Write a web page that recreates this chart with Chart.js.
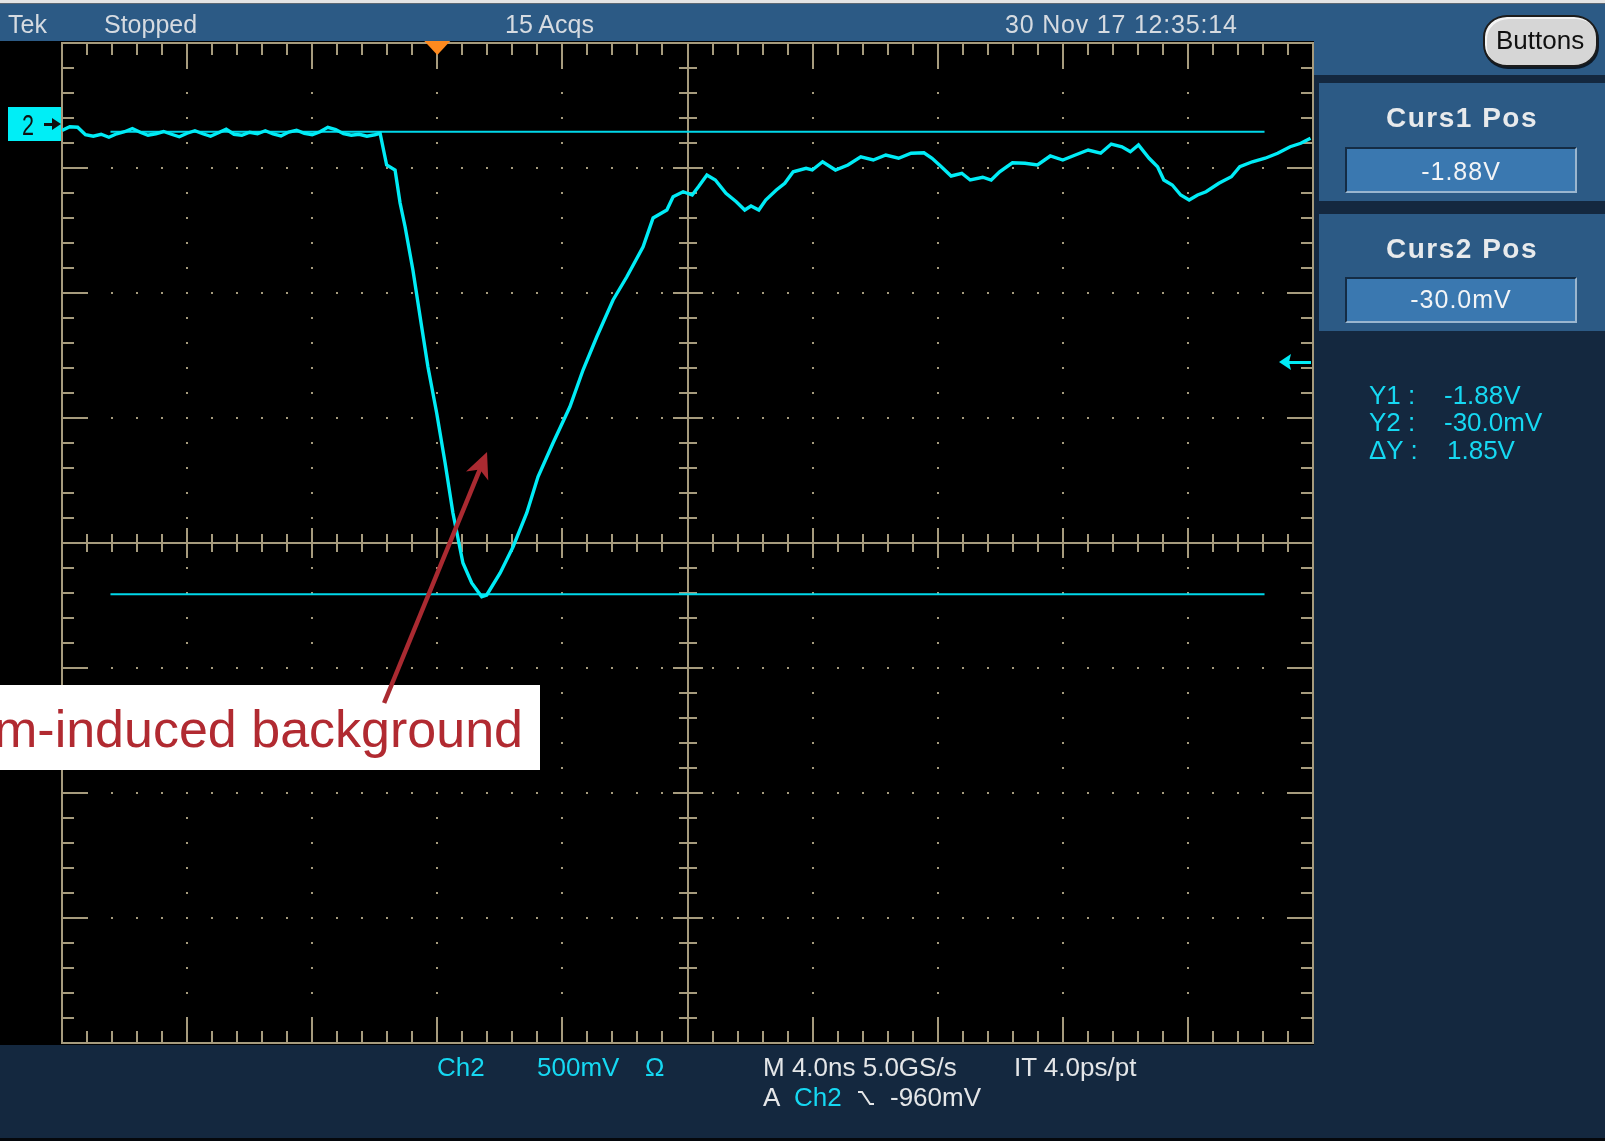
<!DOCTYPE html>
<html>
<head>
<meta charset="utf-8">
<title>Tek Ch2</title>
<script src="https://cdn.jsdelivr.net/npm/chart.js@4.4.1/dist/chart.umd.min.js"></script>
<style>
  html, body { margin: 0; padding: 0; }
  body {
    width: 1605px; height: 1141px; position: relative; overflow: hidden;
    background: #14283f; font-family: "Liberation Sans", Arial, sans-serif;
  }
  .blk { position: absolute; }
  #topStrip { left: 0; top: 0; width: 1605px; height: 3px; background: #e4e4e4; border-bottom: 1px solid #5d6873; }
  #header { left: 0; top: 4px; width: 1605px; height: 37px; background: #2c5a85; }
  #headerRight { left: 1313px; top: 4px; width: 292px; height: 71px; background: #2c5a85; }
  .panel { left: 1319px; width: 286px; background: #2c5a85; }
  .valueBox {
    left: 1345px; width: 228px; height: 42px; background: #3a78b0;
    border-top: 2px solid #142c45; border-left: 2px solid #142c45;
    border-bottom: 2px solid #9ab6cf; border-right: 2px solid #9ab6cf;
  }
  #bottomEdge { left: 0; top: 1138px; width: 1605px; height: 3px; background: #05080c; }
  #buttons {
    left: 1483px; top: 15px; width: 111px; height: 48px; border-radius: 24px / 22px;
    background: #d6d6d6; border: 2px solid #1c1c1c; box-shadow: inset 2px 2px 0 #f4f4f4, 1px 2px 0 #0d1a28;
  }
  #plot { position: absolute; left: 0; top: 0; z-index: 1; }
  .txt { position: absolute; z-index: 2; white-space: nowrap; line-height: 1; }
  .hdr { font-size: 25px; color: #d6dbe1; top: 12px; }
  .pnl { font-size: 28px; font-weight: bold; color: #e8eaec; letter-spacing: 1.5px; left: 1319px; width: 286px; text-align: center; }
  .val { font-size: 25px; color: #f2f4f6; letter-spacing: 1px; left: 1345px; width: 232px; text-align: center; }
  .cy { color: #16d8f2; }
  .wh { color: #e4e6e8; }
  .meas { font-size: 26px; }
  .foot { font-size: 26px; }
  #note { font-size: 52px; color: #b12a31; right: 1082px; top: 703px; }
</style>
</head>
<body>
<div class="blk" id="topStrip"></div>
<div class="blk" id="header"></div>
<div class="blk" id="headerRight"></div>
<div class="blk panel" style="top:83px;height:118px"></div>
<div class="blk valueBox" style="top:147px"></div>
<div class="blk panel" style="top:214px;height:117px"></div>
<div class="blk valueBox" style="top:277px"></div>
<div class="blk" id="buttons"></div>
<div class="blk" id="bottomEdge"></div>

<canvas id="plot" width="1605" height="1141"></canvas>

<!-- status line -->
<div class="txt hdr" style="left:8px">Tek</div>
<div class="txt hdr" style="left:104px">Stopped</div>
<div class="txt hdr" style="left:505px">15 Acqs</div>
<div class="txt hdr" style="left:1005px;letter-spacing:0.8px">30 Nov 17 12:35:14</div>
<div class="txt" style="left:1496px;top:27px;font-size:26px;color:#101010">Buttons</div>

<!-- cursor readouts -->
<div class="txt pnl" style="top:104px">Curs1 Pos</div>
<div class="txt val" id="curs1Val" style="top:159px"></div>
<div class="txt pnl" style="top:235px">Curs2 Pos</div>
<div class="txt val" id="curs2Val" style="top:287px"></div>
<div class="txt meas cy" style="left:1369px;top:382px">Y1 :</div>
<div class="txt meas cy" id="y1Val" style="left:1444px;top:382px"></div>
<div class="txt meas cy" style="left:1369px;top:409px">Y2 :</div>
<div class="txt meas cy" id="y2Val" style="left:1444px;top:409px"></div>
<div class="txt meas cy" style="left:1369px;top:437px">ΔY :</div>
<div class="txt meas cy" id="dyVal" style="left:1447px;top:437px"></div>

<!-- channel / timebase / trigger line -->
<div class="txt foot cy" style="left:437px;top:1054px">Ch2</div>
<div class="txt foot cy" id="ch2Scale" style="left:537px;top:1054px"></div>
<div class="txt foot cy" style="left:645px;top:1054px">Ω</div>
<div class="txt foot wh" style="left:763px;top:1054px">M 4.0ns 5.0GS/s</div>
<div class="txt foot wh" style="left:1014px;top:1054px">IT 4.0ps/pt</div>
<div class="txt foot wh" style="left:763px;top:1084px">A</div>
<div class="txt foot cy" style="left:794px;top:1084px">Ch2</div>
<svg class="txt" style="left:857px;top:1088px" width="18" height="20">
  <polyline points="1,4 5,4 13,16 17,16" fill="none" stroke="#e4e6e8" stroke-width="2"/>
</svg>
<div class="txt foot wh" id="trigVal" style="left:890px;top:1084px"></div>

<div class="txt" style="left:22px;top:110px;font-size:30px;color:#101010;transform:scaleX(0.72);transform-origin:left">2</div>
<div class="txt" id="note">m-induced background</div>

<script>
// Ch2 trace, time in ns (trigger at 0), amplitude in volts
const traceNs = [
  -12.00, -11.75, -11.50, -11.25, -11.00, -10.75, -10.50, -10.25, -10.00, -9.75,
  -9.50, -9.25, -9.00, -8.75, -8.50, -8.25, -8.00, -7.75, -7.50, -7.25,
  -7.00, -6.75, -6.50, -6.25, -6.00, -5.75, -5.50, -5.25, -5.00, -4.75,
  -4.50, -4.25, -4.00, -3.75, -3.50, -3.25, -3.00, -2.75, -2.50, -2.25,
  -2.00, -1.83, -1.62, -1.35, -1.19, -1.03, -0.78, -0.50, -0.30, -0.02,
  0.25, 0.50, 0.82, 1.10, 1.42, 1.58, 2.01, 2.42, 2.86, 3.22,
  3.70, 4.24, 4.66, 5.10, 5.62, 6.06, 6.58, 6.90, 7.34, 7.54,
  7.86, 8.15, 8.35, 8.62, 8.89, 9.23, 9.56, 9.83, 10.03, 10.28,
  10.50, 10.84, 11.11, 11.38, 11.79, 11.99, 12.32, 12.73, 13.13, 13.54,
  13.94, 14.34, 14.75, 15.15, 15.56, 15.82, 16.09, 16.43, 16.77, 17.04,
  17.44, 17.71, 17.98, 18.39, 18.79, 19.19, 19.60, 20.00, 20.40, 20.81,
  21.21, 21.55, 21.89, 22.16, 22.42, 22.76, 23.03, 23.23, 23.50, 23.77,
  24.04, 24.31, 24.58, 24.99, 25.39, 25.66, 26.06, 26.47, 26.87, 27.27,
  27.61, 27.92
];
const traceVolts = [
  -1.885, -1.900, -1.898, -1.868, -1.862, -1.870, -1.858, -1.872, -1.880, -1.893,
  -1.878, -1.866, -1.872, -1.881, -1.870, -1.860, -1.874, -1.884, -1.872, -1.862,
  -1.876, -1.890, -1.870, -1.866, -1.878, -1.872, -1.884, -1.871, -1.863, -1.879,
  -1.886, -1.874, -1.868, -1.880, -1.898, -1.889, -1.872, -1.866, -1.870, -1.862,
  -1.868, -1.874, -1.747, -1.727, -1.595, -1.500, -1.327, -1.100, -0.940, -0.755,
  -0.555, -0.355, -0.155, -0.075, -0.020, -0.027, -0.115, -0.219, -0.355, -0.500,
  -0.635, -0.780, -0.927, -1.060, -1.207, -1.300, -1.420, -1.535, -1.567, -1.620,
  -1.640, -1.627, -1.660, -1.707, -1.687, -1.634, -1.600, -1.567, -1.583, -1.567,
  -1.607, -1.647, -1.674, -1.720, -1.734, -1.727, -1.760, -1.727, -1.747, -1.780,
  -1.767, -1.787, -1.774, -1.794, -1.796, -1.774, -1.743, -1.703, -1.714, -1.687,
  -1.698, -1.687, -1.720, -1.756, -1.754, -1.747, -1.783, -1.767, -1.787, -1.807,
  -1.794, -1.831, -1.820, -1.800, -1.827, -1.774, -1.740, -1.687, -1.667, -1.627,
  -1.607, -1.627, -1.640, -1.674, -1.700, -1.740, -1.760, -1.774, -1.794, -1.820,
  -1.834, -1.854
];

// horizontal cursors (V) and the time span they are drawn over (ns)
const curs1Volts = -1.88;
const curs2Volts = -0.030;
const cursorSpanNs = [-10.45, 26.45];

// trigger and channel settings
const trigLevelVolts = -0.96;
const trigTimeNs = 0;
const ch2MarkerVolts = -1.91;
const voltsPerDiv = 0.5;

// screen window: 10 x 4 ns, 8 x 0.5 V (channel inverted)
const timeWindowNs = [-12, 28];
const voltWindow = [-2.235, 1.765];

// arrow of the note, tail -> tip, in (ns, V)
const noteArrowNs = [-1.70, 1.59];
const noteArrowVolts = [0.405, -0.599];

const CYAN = '#00ecf6';
const TAN = '#a69b7d';

function fmtVolts(v) {
  if (Math.abs(v) < 1) return (v * 1000).toFixed(1) + 'mV';
  return v.toFixed(2) + 'V';
}

document.getElementById('curs1Val').textContent = fmtVolts(curs1Volts);
document.getElementById('curs2Val').textContent = fmtVolts(curs2Volts);
document.getElementById('y1Val').textContent = fmtVolts(curs1Volts);
document.getElementById('y2Val').textContent = fmtVolts(curs2Volts);
document.getElementById('dyVal').textContent = fmtVolts(Math.abs(curs2Volts - curs1Volts));
document.getElementById('ch2Scale').textContent = Math.round(voltsPerDiv * 1000) + 'mV';
document.getElementById('trigVal').textContent = Math.round(trigLevelVolts * 1000) + 'mV';

// graticule, markers and the note box
const scopeScreen = {
  id: 'scopeScreen',
  beforeDraw(chart) {
    const { ctx, chartArea: a } = chart;
    const w = a.right - a.left, h = a.bottom - a.top;
    ctx.save();
    ctx.fillStyle = '#000';
    ctx.fillRect(0, 41, Math.round(a.right) + 1, Math.round(a.bottom) + 2 - 41);

    ctx.fillStyle = TAN;
    // dotted division lines
    for (let i = 1; i < 10; i++) {
      if (i === 5) continue;
      const x = Math.round(a.left + i * w / 10);
      for (let k = 1; k < 40; k++) ctx.fillRect(x - 1, Math.round(a.top + k * h / 40) - 1, 2, 2);
    }
    for (let j = 1; j < 8; j++) {
      if (j === 4) continue;
      const y = Math.round(a.top + j * h / 8);
      for (let k = 1; k < 50; k++) ctx.fillRect(Math.round(a.left + k * w / 50) - 1, y - 1, 2, 2);
    }

    // frame
    const L = Math.round(a.left), R = Math.round(a.right), T = Math.round(a.top), B = Math.round(a.bottom);
    ctx.fillRect(L - 1, T - 1, R - L + 2, 2);
    ctx.fillRect(L - 1, B - 1, R - L + 2, 2);
    ctx.fillRect(L - 1, T - 1, 2, B - T + 2);
    ctx.fillRect(R - 1, T - 1, 2, B - T + 2);

    // frame ticks
    for (let k = 1; k < 50; k++) {
      const x = Math.round(a.left + k * w / 50);
      const len = k % 5 === 0 ? 25 : 12;
      ctx.fillRect(x - 1, T, 2, len);
      ctx.fillRect(x - 1, B - len, 2, len);
    }
    for (let k = 1; k < 40; k++) {
      const y = Math.round(a.top + k * h / 40);
      const len = k % 5 === 0 ? 25 : 12;
      ctx.fillRect(L, y - 1, len, 2);
      ctx.fillRect(R - len, y - 1, len, 2);
    }

    // centre cross with ticks
    const cx = Math.round(a.left + w / 2), cy = Math.round(a.top + h / 2);
    ctx.fillRect(cx - 1, T, 2, B - T);
    ctx.fillRect(L, cy - 1, R - L, 2);
    for (let k = 1; k < 50; k++) {
      const x = Math.round(a.left + k * w / 50);
      const half = k % 5 === 0 ? 15 : 9;
      ctx.fillRect(x - 1, cy - half, 2, half * 2);
    }
    for (let k = 1; k < 40; k++) {
      const y = Math.round(a.top + k * h / 40);
      const half = k % 5 === 0 ? 15 : 9;
      ctx.fillRect(cx - half, y - 1, half * 2, 2);
    }
    ctx.restore();
  },
  afterDatasetsDraw(chart) {
    const { ctx, chartArea: a, scales } = chart;
    ctx.save();
    // trigger position marker
    const tx = scales.x.getPixelForValue(trigTimeNs);
    ctx.fillStyle = '#ff8a1e';
    ctx.beginPath();
    ctx.moveTo(tx - 13, a.top - 2);
    ctx.lineTo(tx + 13, a.top - 2);
    ctx.lineTo(tx, a.top + 12);
    ctx.closePath();
    ctx.fill();

    // trigger level arrow on the right edge
    const ty = Math.round(scales.y.getPixelForValue(trigLevelVolts));
    ctx.fillStyle = CYAN;
    ctx.fillRect(a.right - 26, ty - 1, 24, 3);
    ctx.beginPath();
    ctx.moveTo(a.right - 34, ty);
    ctx.lineTo(a.right - 22, ty - 8);
    ctx.lineTo(a.right - 24, ty);
    ctx.lineTo(a.right - 22, ty + 8);
    ctx.closePath();
    ctx.fill();

    // channel 2 marker
    const my = Math.round(scales.y.getPixelForValue(ch2MarkerVolts));
    ctx.fillStyle = '#00eef6';
    ctx.fillRect(8, my - 17, a.left - 9, 34);
    ctx.fillStyle = '#101010';
    ctx.fillRect(44, my - 1, 10, 3);
    ctx.beginPath();
    ctx.moveTo(61, my);
    ctx.lineTo(52, my - 6);
    ctx.lineTo(52, my + 6);
    ctx.closePath();
    ctx.fill();
    ctx.restore();
  },
  afterDraw(chart) {
    const { ctx, scales } = chart;
    ctx.save();
    ctx.fillStyle = '#ffffff';
    ctx.fillRect(0, 685, 540, 85);

    const x0 = scales.x.getPixelForValue(noteArrowNs[0]);
    const y0 = scales.y.getPixelForValue(noteArrowVolts[0]);
    const x1 = scales.x.getPixelForValue(noteArrowNs[1]);
    const y1 = scales.y.getPixelForValue(noteArrowVolts[1]);
    const len = Math.hypot(x1 - x0, y1 - y0);
    const ux = (x1 - x0) / len, uy = (y1 - y0) / len;
    const nx = -uy, ny = ux;
    ctx.strokeStyle = '#aa2a31';
    ctx.fillStyle = '#aa2a31';
    ctx.lineWidth = 4.5;
    ctx.beginPath();
    ctx.moveTo(x0, y0);
    ctx.lineTo(x1 - 18 * ux, y1 - 18 * uy);
    ctx.stroke();
    ctx.beginPath();
    ctx.moveTo(x1, y1);
    ctx.lineTo(x1 - 26 * ux + 12 * nx, y1 - 26 * uy + 12 * ny);
    ctx.lineTo(x1 - 19 * ux, y1 - 19 * uy);
    ctx.lineTo(x1 - 26 * ux - 12 * nx, y1 - 26 * uy - 12 * ny);
    ctx.closePath();
    ctx.fill();
    ctx.restore();
  }
};

const toPoints = (xs, ys) => xs.map((x, i) => ({ x, y: ys[i] }));
const cursorLine = v => cursorSpanNs.map(x => ({ x, y: v }));

new Chart(document.getElementById('plot').getContext('2d'), {
  type: 'line',
  data: {
    datasets: [
      {
        label: 'Ch2',
        data: toPoints(traceNs, traceVolts),
        borderColor: CYAN,
        borderWidth: 3.4,
        pointRadius: 0,
        tension: 0,
      },
      {
        label: 'Curs1',
        data: cursorLine(curs1Volts),
        borderColor: '#00d8ea',
        borderWidth: 2,
        pointRadius: 0,
      },
      {
        label: 'Curs2',
        data: cursorLine(curs2Volts),
        borderColor: '#00d8ea',
        borderWidth: 2,
        pointRadius: 0,
      },
    ],
  },
  options: {
    responsive: false,
    animation: false,
    events: [],
    layout: { padding: { left: 62, top: 43, right: 292, bottom: 98 } },
    scales: {
      x: { type: 'linear', min: timeWindowNs[0], max: timeWindowNs[1], display: false },
      y: { type: 'linear', min: voltWindow[0], max: voltWindow[1], reverse: true, display: false },
    },
    plugins: {
      legend: { display: false },
      tooltip: { enabled: false },
    },
  },
  plugins: [scopeScreen],
});
</script>
</body>
</html>
